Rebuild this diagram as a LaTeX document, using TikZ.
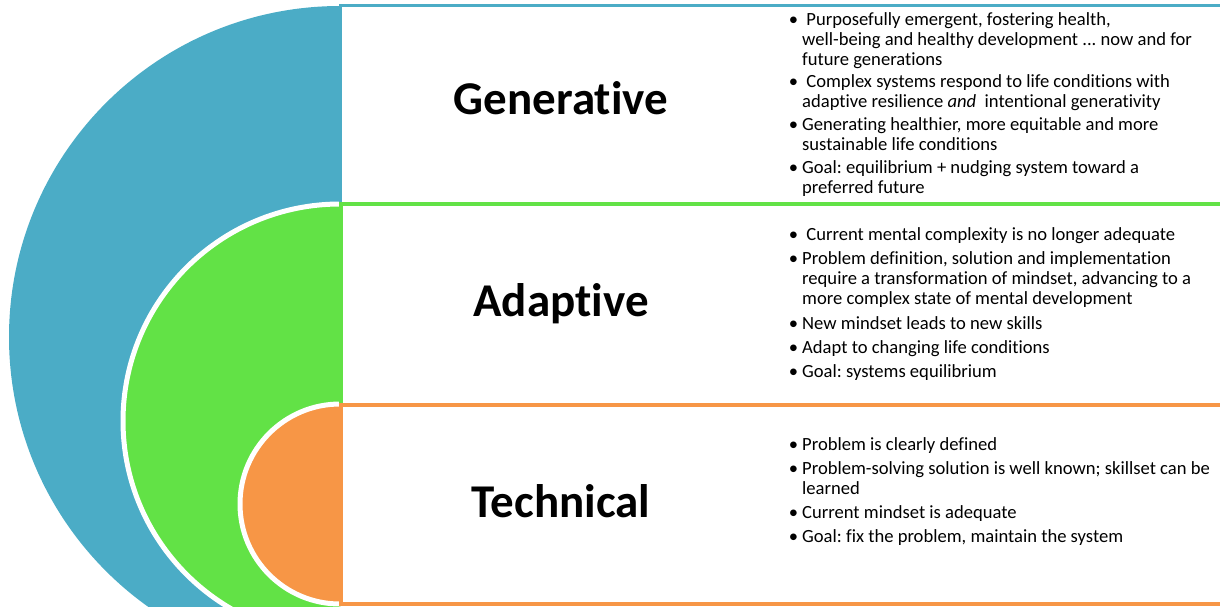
\documentclass[tikz,border=0pt]{standalone}
\usepackage{fontspec}
\setmainfont{Carlito}[Ligatures=NoCommon]
\frenchspacing
\definecolor{cblue}{HTML}{4BACC6}
\definecolor{cgreen}{HTML}{62E246}
\definecolor{corange}{HTML}{F79646}
\tikzset{
  head/.style={anchor=base, inner sep=0, font=\fontsize{47}{50}\selectfont\bfseries},
  item/.style={anchor=base west, inner sep=0, font=\fontsize{18.6}{20}\selectfont\frenchspacing},
  sep/.style={draw=white, line width=5},
  box/.style={line width=4, fill=white}
}
\newcommand{\bul}{\llap{\textbullet\hspace{4pt}}}
\begin{document}
\begin{tikzpicture}[x=1pt,y=-1pt]
\useasboundingbox (0,0) rectangle (1220,606);
\clip (0,0) rectangle (1220,606);
% half disks
\fill[cblue] (340,6) arc[start angle=270, end angle=90, radius=331] -- cycle;
\fill[cgreen] (340,204) arc[start angle=270, end angle=90, radius=217] -- cycle;
\draw[sep] (340,204) arc[start angle=270, end angle=90, radius=217];
\fill[corange] (340,404) arc[start angle=270, end angle=90, radius=100] -- cycle;
\draw[sep] (340,404) arc[start angle=270, end angle=90, radius=100];
% boxes
\draw[box, draw=cblue, line width=3.5] (340.5,5.5) rectangle (1240,204);
\draw[box, draw=cgreen] (340.5,204) rectangle (1240,404.5);
\draw[box, draw=corange] (340.5,404.5) rectangle (1240,603.5);
% headings
\node[head] (gen) at (561,114.3) {Generative};
\node[head] (ada) at (561,316) {Adaptive};
\node[head] (tec) at (561,517.7) {Technical};
% Generative bullets
\node[item] (g1) at (802,25) {\begin{tabular}[t]{@{}l@{}}\bul\ Purposefully emergent, fostering health,\\well-being and healthy development ... now and for\\future generations\end{tabular}};
\node[item] (g2) at (802,87) {\begin{tabular}[t]{@{}l@{}}\bul\ Complex systems respond to life conditions with\\adaptive resilience \textit{and}\ \ intentional generativity\end{tabular}};
\node[item] (g3) at (802,130) {\begin{tabular}[t]{@{}l@{}}\bul Generating healthier, more equitable and more\\sustainable life conditions\end{tabular}};
\node[item] (g4) at (802,173) {\begin{tabular}[t]{@{}l@{}}\bul Goal: equilibrium + nudging system toward a\\preferred future\end{tabular}};
% Adaptive bullets
\node[item] (a1) at (802,240) {\bul\ Current mental complexity is no longer adequate};
\node[item] (a2) at (802,264) {\begin{tabular}[t]{@{}l@{}}\bul Problem definition, solution and implementation\\require a transformation of mindset, advancing to a\\more complex state of mental development\end{tabular}};
\node[item] (a3) at (802,329) {\bul New mindset leads to new skills};
\node[item] (a4) at (802,353) {\bul Adapt to changing life conditions};
\node[item] (a5) at (802,377) {\bul Goal: systems equilibrium};
% Technical bullets
\node[item] (t1) at (802,450) {\bul Problem is clearly defined};
\node[item] (t2) at (802,474) {\begin{tabular}[t]{@{}l@{}}\bul Problem-solving solution is well known; skillset can be\\learned\end{tabular}};
\node[item] (t3) at (802,518) {\bul Current mindset is adequate};
\node[item] (t4) at (802,542) {\bul Goal: fix the problem, maintain the system};
\end{tikzpicture}
\end{document}
